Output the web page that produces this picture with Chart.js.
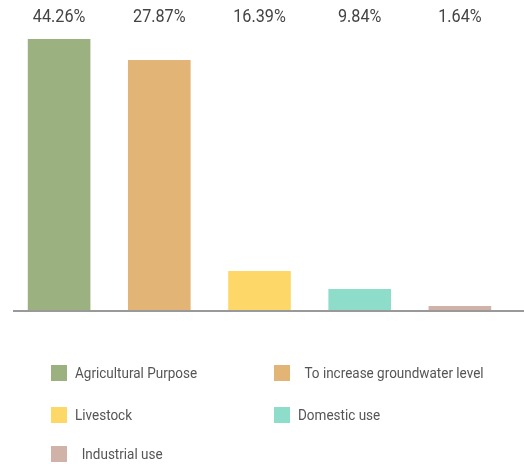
<!DOCTYPE html>
<html><head><meta charset="utf-8">
<script src="https://cdn.jsdelivr.net/npm/chart.js@4"></script>
<style>
html,body{margin:0;padding:0;background:#fff;}
#wrap{position:relative;width:524px;height:464px;}
#c{position:absolute;left:0;top:0;}
.lg{position:absolute;font-family:Roboto,sans-serif;font-size:15px;color:#555;white-space:pre;}
.lg span.sw{position:absolute;left:0;top:0;width:16px;height:16px;}
.lg span.tx{position:absolute;top:-1px;line-height:18px;transform:scaleX(0.9);transform-origin:0 0;}
</style></head>
<body><div id="wrap"><canvas id="c" width="524" height="464"></canvas><div id="legend"></div></div>
<script>
const categories = ["Agricultural Purpose", " To increase groundwater level", "Livestock", "Domestic use", " Industrial use"];
const barValues = [271, 250, 39, 21, 4];
const percentLabels = ["44.26%", "27.87%", "16.39%", "9.84%", "1.64%"];
const colors = ["#9BB17F", "#E2B476", "#FDD868", "#8EDDCB", "#D0B2A8"];

const topLabels = {
  id: 'topLabels',
  afterDatasetsDraw(chart) {
    const ctx = chart.ctx;
    const meta = chart.getDatasetMeta(0);
    ctx.save();
    ctx.font = '18px Roboto, sans-serif';
    ctx.fillStyle = '#444';
    ctx.textAlign = 'center';
    ctx.textBaseline = 'middle';
    meta.data.forEach((bar, i) => {
      ctx.save();
      ctx.translate(bar.x, 17);
      ctx.scale(0.9, 1);
      ctx.fillText(percentLabels[i], 0, 0);
      ctx.restore();
    });
    ctx.strokeStyle = '#999';
    ctx.lineWidth = 2;
    ctx.beginPath();
    ctx.moveTo(13, chart.chartArea.bottom + 1);
    ctx.lineTo(524, chart.chartArea.bottom + 1);
    ctx.stroke();
    ctx.restore();
  }
};

new Chart(document.getElementById('c'), {
  type: 'bar',
  data: { labels: categories, datasets: [{ data: barValues, backgroundColor: colors, borderWidth: 0, categoryPercentage: 1, barPercentage: 0.625 }] },
  options: {
    responsive: false, animation: false,
    layout: { padding: { top: 39, bottom: 154, left: 9, right: 14 } },
    plugins: { legend: { display: false }, tooltip: { enabled: false } },
    scales: {
      x: { display: false },
      y: { display: false, min: 0, max: 271 }
    }
  },
  plugins: [topLabels]
});

const lg = document.getElementById('legend');
const pos = [[51,365],[274,365],[51,407],[274,407],[51,446]];
categories.forEach((c, i) => {
  const d = document.createElement('div');
  d.className = 'lg';
  d.style.left = pos[i][0] + 'px';
  d.style.top = pos[i][1] + 'px';
  d.innerHTML = '<span class="sw" style="background:' + colors[i] + '"></span><span class="tx" style="left:24px">' + c.replace(/^ /, '&nbsp; ') + '</span>';
  lg.appendChild(d);
});
</script>
</body></html>
